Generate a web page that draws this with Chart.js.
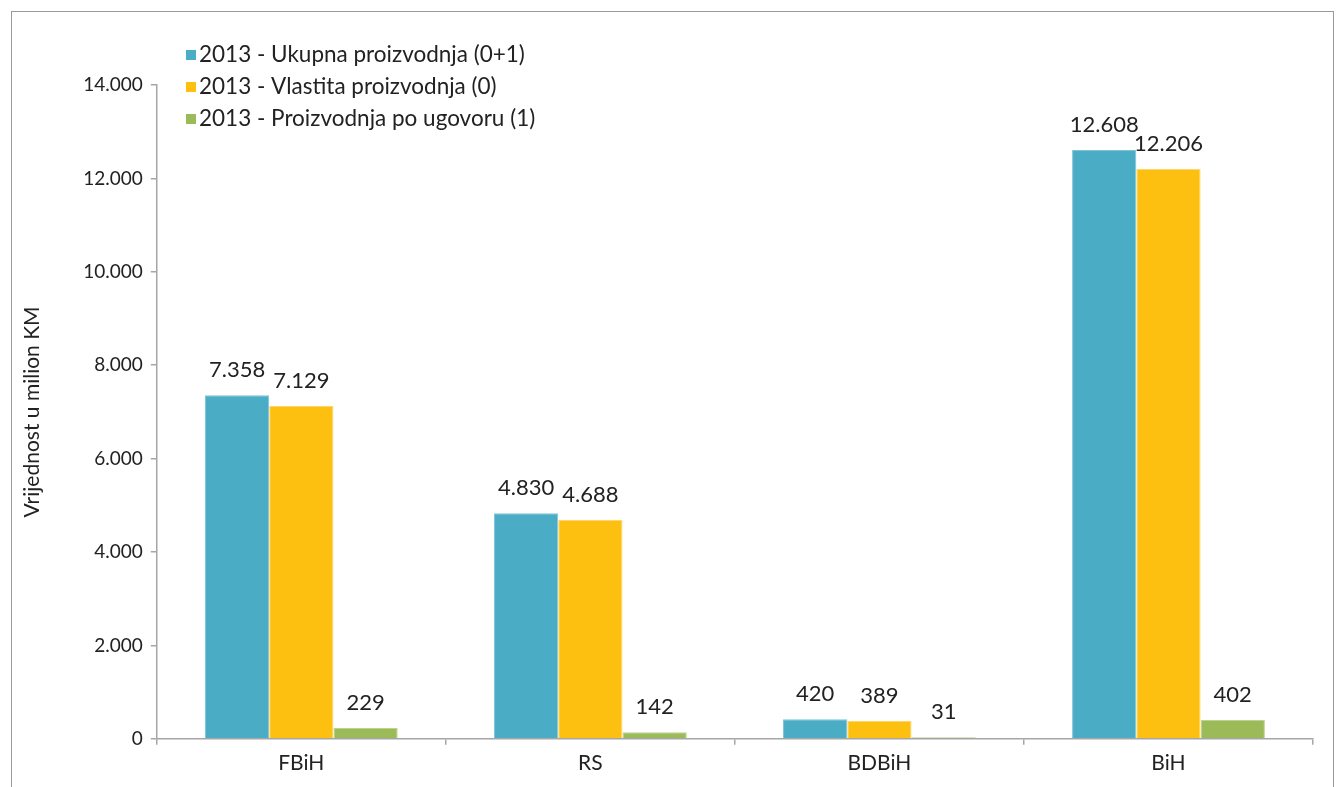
<!DOCTYPE html>
<html>
<head>
<meta charset="utf-8">
<script src="https://cdn.jsdelivr.net/npm/chart.js@4"></script>
<style>
  html, body { margin: 0; padding: 0; background: #fff; }
  #wrap { position: relative; width: 1343px; height: 787px; overflow: hidden; }
  #frame { position: absolute; left: 11px; top: 11px; width: 1323px; height: 800px;
           border: 1.5px solid #9a9a9a; box-sizing: border-box; }
  canvas { position: absolute; left: 0; top: 0; }
</style>
</head>
<body>
<div id="wrap">
  <div id="frame"></div>
  <canvas id="myChart1" width="1343" height="787"></canvas>
</div>
<script>
// regije
const categories = ["FBiH", "RS", "BDBiH", "BiH"];
// vrijednosti u milion KM
const ukupna = [7358, 4830, 420, 12608];
const vlastita = [7129, 4688, 389, 12206];
const poUgovoru = [229, 142, 31, 402];
const seriesNames = [
  "2013 - Ukupna proizvodnja (0+1)",
  "2013 - Vlastita proizvodnja (0)",
  "2013 - Proizvodnja po ugovoru (1)"
];

const FONT = "'Lato', 'Open Sans', sans-serif";
const fmt = (v) => v.toLocaleString("de-DE");

const valueLabels = {
  id: "valueLabels",
  afterDatasetsDraw(chart) {
    const ctx = chart.ctx;
    ctx.save();
    ctx.font = "22px " + FONT;
    ctx.fillStyle = "#222";
    ctx.textAlign = "center";
    ctx.textBaseline = "bottom";
    chart.data.datasets.forEach((ds, i) => {
      chart.getDatasetMeta(i).data.forEach((bar, j) => {
        ctx.fillText(fmt(ds.data[j]), bar.x, bar.y - 14);
      });
    });
    ctx.restore();
  }
};

const boxLegend = {
  id: "boxLegend",
  afterDraw(chart) {
    const ctx = chart.ctx;
    ctx.save();
    ctx.font = "22.5px " + FONT;
    ctx.textBaseline = "middle";
    chart.data.datasets.forEach((ds, i) => {
      const y = 55 + i * 32;
      ctx.fillStyle = ds.backgroundColor;
      ctx.fillRect(186, y - 5, 10, 10);
      ctx.fillStyle = "#222";
      ctx.fillText(ds.label, 199, y);
    });
    ctx.restore();
  }
};

new Chart(document.getElementById("myChart1"), {
  type: "bar",
  data: {
    labels: categories,
    datasets: [
      { label: seriesNames[0], data: ukupna, backgroundColor: "#4BACC6", borderColor: "#7cc4d8" },
      { label: seriesNames[1], data: vlastita, backgroundColor: "#FDC010", borderColor: "#fdd56a" },
      { label: seriesNames[2], data: poUgovoru, backgroundColor: "#9BBB59", borderColor: "#bdd28f" }
    ].map(d => Object.assign(d, { borderWidth: 1, borderSkipped: "bottom",
                                   categoryPercentage: 0.667, barPercentage: 1 }))
  },
  options: {
    responsive: false,
    animation: false,
    layout: { padding: { left: 14, right: 30, top: 85, bottom: 5 } },
    plugins: {
      legend: { display: false },
      tooltip: { enabled: false }
    },
    scales: {
      x: {
        grid: { drawOnChartArea: false, tickLength: 6, color: "#a6a6a6", lineWidth: 1.5 },
        border: { color: "#a6a6a6", width: 1.5 },
        ticks: { color: "#222", font: { family: FONT, size: 21 }, padding: 6 }
      },
      y: {
        min: 0,
        max: 14000,
        ticks: { stepSize: 2000, color: "#222", font: { family: FONT, size: 19 }, padding: 8,
                 callback: (v) => fmt(v) },
        grid: { drawOnChartArea: false, tickLength: 6, color: "#a6a6a6", lineWidth: 1.5 },
        border: { color: "#a6a6a6", width: 1.5 },
        title: { display: true, text: "Vrijednost u milion KM", color: "#222",
                 font: { family: FONT, size: 21 }, padding: { top: 6, bottom: 30 } }
      }
    }
  },
  plugins: [valueLabels, boxLegend]
});
</script>
</body>
</html>
